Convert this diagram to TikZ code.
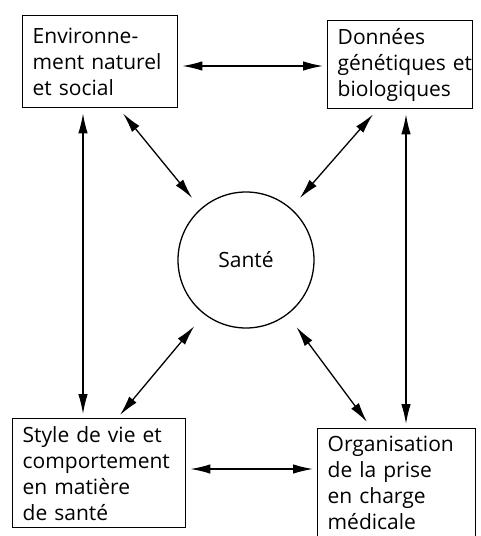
\documentclass[tikz,border=0pt]{standalone}
\usepackage{fontspec}
\setmainfont{Open Sans}
\usetikzlibrary{arrows.meta,calc}
\begin{document}
\begin{tikzpicture}[x=1pt,y=-1pt,
  box/.style={draw,line width=1.4pt,rectangle,anchor=north west,align=left,inner sep=0pt,
    font=\fontsize{21}{26}\selectfont},
  link/.style={line width=1.3pt,{Latex[length=20pt,width=9.5pt]}-{Latex[length=20pt,width=9.5pt]}}]
\useasboundingbox (0,0) rectangle (480,536);
\node[box,minimum width=155pt,minimum height=92pt,text width=155pt] (tl) at (22,15)
  {\hspace*{10pt}\parbox[c]{145pt}{Environne-\\ment naturel\\et social}};
\node[box,minimum width=145pt,minimum height=88pt,text width=145pt] (tr) at (327,20)
  {\hspace*{10pt}\parbox[c]{135pt}{Données\\génétiques et\\biologiques}};
\node[box,minimum width=173pt,minimum height=109pt,text width=173pt] (bl) at (12,418)
  {\hspace*{10pt}\parbox[c]{163pt}{Style de vie et\\comportement\\en matière\\de santé}};
\node[box,minimum width=158pt,minimum height=108pt,text width=158pt] (br) at (317,428)
  {\hspace*{10pt}\parbox[c]{148pt}{Organisation\\de la prise\\en charge\\médicale}};
\node[draw,circle,line width=1.3pt,minimum size=136pt,inner sep=0pt,
  font=\fontsize{21}{26}\selectfont] (c) at (246,260) {Santé};
% horizontal
\draw[link] ([xshift=4pt,yshift=-51pt]tl.north east) -- ([xshift=-4pt,yshift=-46pt]tr.north west);
\draw[link] ([xshift=4pt,yshift=-51pt]bl.north east) -- ([xshift=-4pt,yshift=-41pt]br.north west);
% vertical
\draw[link] ([xshift=61pt,yshift=-5pt]tl.south west) -- ([xshift=71pt,yshift=4pt]bl.north west);
\draw[link] ([xshift=79pt,yshift=-5pt]tr.south west) -- ([xshift=89pt,yshift=4pt]br.north west);
% diagonals
\draw[link] ([xshift=101pt,yshift=-5pt]tl.south west) -- ($(c.center)+(131:82pt)$);
\draw[link] ([xshift=46pt,yshift=-5pt]tr.south west) -- ($(c.center)+(49:82pt)$);
\draw[link] ([xshift=108pt,yshift=3pt]bl.north west) -- ($(c.center)+(232:84pt)$);
\draw[link] ([xshift=50pt,yshift=6pt]br.north west) -- ($(c.center)+(307:84pt)$);
\end{tikzpicture}
\end{document}
